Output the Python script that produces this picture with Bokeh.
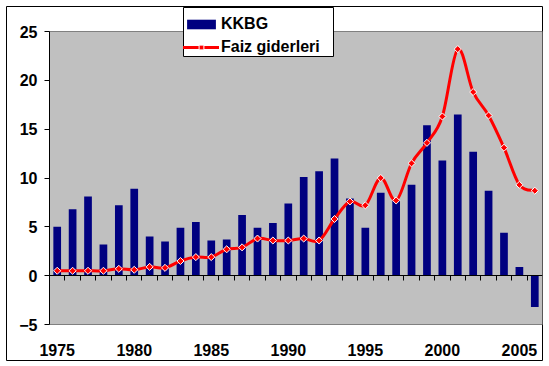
import math
from bokeh.plotting import figure
from bokeh.models import (Range1d, FixedTicker, LinearAxis, Legend, LegendItem,
                          BoxAnnotation)
from bokeh.embed import file_html
from bokeh.resources import INLINE

# ---- data ----
years = list(range(1975, 2007))
kkbg = [5.0, 6.8, 8.1, 3.2, 7.2, 8.9, 4.0, 3.5, 4.9, 5.5,
        3.6, 3.7, 6.2, 4.9, 5.4, 7.4, 10.1, 10.7, 12.0, 7.9,
        4.9, 8.5, 7.7, 9.3, 15.4, 11.8, 16.5, 12.7, 8.7, 4.4,
        0.9, -3.2]
faiz = [0.5, 0.5, 0.5, 0.5, 0.7, 0.6, 0.9, 0.8, 1.5, 1.9,
        1.9, 2.7, 2.9, 3.8, 3.6, 3.6, 3.8, 3.6, 5.8, 7.6,
        7.2, 10.0, 7.7, 11.5, 13.6, 16.3, 23.2, 18.8, 16.4, 13.1,
        9.3, 8.7]
x_tick_years = [1975, 1980, 1985, 1990, 1995, 2000, 2005]
y_ticks = [-5, 0, 5, 10, 15, 20, 25]
series_names = ["KKBG", "Faiz giderleri"]

FONT = "Liberation Sans"

# ---- layout geometry (pixels) ----
W, H = 549, 366
OUT_L, OUT_T, OUT_R, OUT_B = 6, 6, 542, 360      # outer chart border
PA_L, PA_T, PA_R, PA_B = 49, 31, 542, 324        # plot area
LEG_BOX = (183, 7, 333, 56)                      # legend frame (l, t, r, b)

x_lo, x_hi = years[0] - 0.5, years[-1] + 0.5
y_lo, y_hi = y_ticks[0], y_ticks[-1]
xs_px = (PA_R - PA_L) / (x_hi - x_lo)
ys_px = (PA_B - PA_T) / (y_hi - y_lo)
x_start = x_lo - (PA_L - OUT_L) / xs_px
y_end = y_hi + (PA_T - OUT_T) / ys_px
x_range = Range1d(x_start, x_hi + (OUT_R - PA_R) / xs_px)
y_range = Range1d(y_lo - (OUT_B - PA_B) / ys_px, y_end)


def px_to_x(px):
    return x_start + (px - OUT_L) / xs_px


def py_to_y(py):
    return y_end - (py - OUT_T) / ys_px


p = figure(width=W, height=H, output_backend="svg", toolbar_location=None,
           x_range=x_range, y_range=y_range,
           min_border_left=OUT_L, min_border_right=W - OUT_R,
           min_border_top=OUT_T, min_border_bottom=H - OUT_B,
           x_axis_type=None, y_axis_type=None)
p.background_fill_color = "white"
p.border_fill_color = "white"
p.outline_line_color = "black"
p.outline_line_width = 1
p.outline_line_alpha = 1

# grey plot area with its border
p.add_layout(BoxAnnotation(left=x_lo, right=x_hi, bottom=y_lo, top=y_hi,
                           fill_color="#C0C0C0", fill_alpha=1,
                           line_color="#808080", line_width=1, line_alpha=1,
                           level="image"))

# horizontal gridlines
p.xgrid.visible = False
p.ygrid.ticker = FixedTicker(ticks=[t for t in y_ticks if t not in (y_lo, 0, y_hi)])
p.ygrid.cross_bounds = (x_lo, x_hi)
p.ygrid.grid_line_color = "black"
p.ygrid.grid_line_width = 1

# y axis
ya = LinearAxis(ticker=FixedTicker(ticks=y_ticks), fixed_location=x_lo,
                bounds=(y_lo, y_hi))
ya.axis_line_color = "black"
ya.major_tick_line_color = "black"
ya.major_tick_out = 5
ya.major_tick_in = 0
ya.minor_tick_line_color = None
ya.major_label_standoff = 7
ya.major_label_text_font = FONT
ya.major_label_text_font_style = "bold"
ya.major_label_text_font_size = "16px"
ya.major_label_text_color = "black"
p.add_layout(ya, "left")

# x axis labels at the bottom of the plot area
xa = LinearAxis(ticker=FixedTicker(ticks=x_tick_years), fixed_location=y_lo)
xa.axis_line_color = None
xa.major_tick_line_color = None
xa.minor_tick_line_color = None
xa.major_tick_out = 0
xa.major_tick_in = 0
xa.major_label_standoff = 19
xa.major_label_text_font = FONT
xa.major_label_text_font_style = "bold"
xa.major_label_text_font_size = "16px"
xa.major_label_text_color = "black"
p.add_layout(xa, "below")

# category axis crossing at zero
boundaries = [y + 0.5 for y in years[:-1]]
za = LinearAxis(ticker=FixedTicker(ticks=boundaries), fixed_location=0,
                bounds=(x_lo, x_hi))
za.axis_line_color = "black"
za.major_tick_line_color = "black"
za.major_tick_out = 5
za.major_tick_in = 0
za.minor_tick_line_color = None
za.major_label_text_color = None
za.major_label_text_font_size = "1px"
za.major_label_standoff = 0
p.add_layout(za, "below")

# bars
bars = p.vbar(x=years, top=kkbg, bottom=0, width=0.5,
              fill_color="#000080", line_color=None)

# smoothed line (Catmull-Rom via bezier segments)
n = len(years)
x0, y0, x1, y1, cx0, cy0, cx1, cy1 = [], [], [], [], [], [], [], []
for i in range(n - 1):
    a = max(i - 1, 0)
    d = min(i + 2, n - 1)
    x0.append(years[i]); y0.append(faiz[i])
    x1.append(years[i + 1]); y1.append(faiz[i + 1])
    cx0.append(years[i] + (years[i + 1] - years[a]) / 6)
    cy0.append(faiz[i] + (faiz[i + 1] - faiz[a]) / 6)
    cx1.append(years[i + 1] - (years[d] - years[i]) / 6)
    cy1.append(faiz[i + 1] - (faiz[d] - faiz[i]) / 6)
curve = p.bezier(x0=x0, y0=y0, x1=x1, y1=y1, cx0=cx0, cy0=cy0, cx1=cx1, cy1=cy1,
                 line_color="#FF0000", line_width=3, line_cap="round")
pts = p.scatter(x=years, y=faiz, marker="square", angle=math.pi / 4, size=5,
                fill_color="#FF0000", line_color="white", line_width=1)

# legend frame
p.add_layout(BoxAnnotation(left=px_to_x(LEG_BOX[0]), right=px_to_x(LEG_BOX[2]),
                           top=py_to_y(LEG_BOX[1]), bottom=py_to_y(LEG_BOX[3]),
                           fill_color="white", fill_alpha=1,
                           line_color="black", line_width=1, line_alpha=1,
                           level="annotation"))

LEG_L, LEG_B = 183, 57
legend = Legend(items=[LegendItem(label=series_names[0], renderers=[bars]),
                       LegendItem(label=series_names[1], renderers=[curve, pts])],
                location=(LEG_L - OUT_L, OUT_B - LEG_B), orientation="vertical")
legend.padding = 4
legend.spacing = 3
legend.margin = 0
legend.glyph_width = 36
legend.glyph_height = 12
legend.label_height = 20
legend.label_width = 100
legend.label_standoff = 2
legend.label_text_font = FONT
legend.label_text_font_style = "bold"
legend.label_text_font_size = "16px"
legend.label_text_color = "black"
legend.border_line_color = None
legend.background_fill_alpha = 0
p.add_layout(legend, "center")

open("out.html", "w").write(file_html(p, INLINE))
